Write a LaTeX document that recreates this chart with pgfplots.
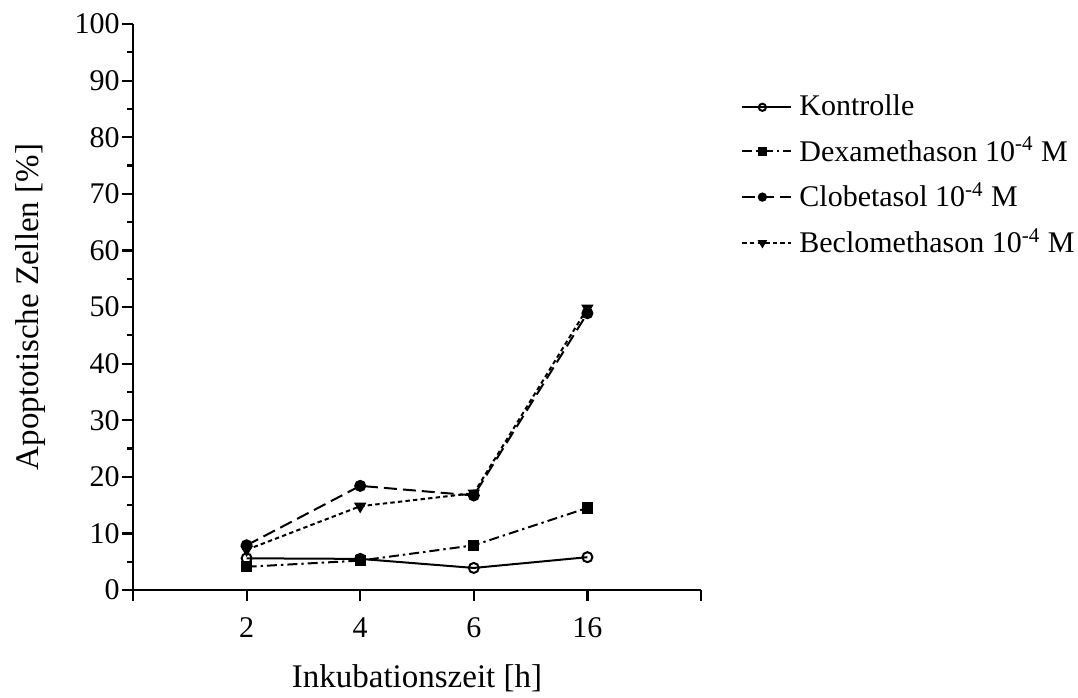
\documentclass[border=0pt]{standalone}
\usepackage{fontspec}
\setmainfont{Liberation Serif}
\usepackage{pgfplots}
\pgfplotsset{compat=1.18}
\usetikzlibrary{calc}

\begin{document}
\fontsize{15}{18}\selectfont
\begin{tikzpicture}
\begin{axis}[
    name=ax,
    scale only axis,
    width=284pt, height=283pt,
    xmin=0, xmax=5, ymin=0, ymax=100,
    axis x line*=bottom, axis y line*=left,
    axis line style={line width=1.1pt},
    tick style={line width=1.1pt, black},
    tick align=outside,
    major tick length=5.5pt, minor tick length=3pt,
    xtick={0,1,2,3,4,5}, xticklabels={,2,4,6,16,},
    ytick={0,10,...,100}, minor y tick num=1,
    /pgf/number format/assume math mode=true,
    ticklabel style={font=\fontsize{15}{18}\selectfont},
    yticklabel style={inner sep=1pt},
    xticklabel style={yshift=-3pt},
    xlabel={Inkubationszeit [h]},
    ylabel={Apoptotische Zellen [\%]},
    label style={font=\fontsize{16.5}{20}\selectfont},
    xlabel style={at={(axis description cs:0.5,-0.1714)}, anchor=base},
    ylabel style={at={(axis description cs:-0.181,0.5)}, anchor=center},
    every axis plot/.append style={line width=1pt, black},
    legend image code/.code={
        \draw[mark repeat=2, mark phase=2, mark size=1.8pt] plot coordinates {(0pt,0pt) (10pt,0pt) (24.5pt,0pt)};
    },
    legend cell align=left,
    legend style={draw=none, fill=none, at={(1.0704,0.883)}, anchor=north west,
        inner sep=0pt, row sep=4.5pt, font=\fontsize{15}{18}\selectfont,
        /tikz/every odd column/.append style={column sep=1.5pt}},
]
\addplot[solid, mark=o, mark size=2.5pt, mark options={solid, fill=white}]
    coordinates {(1,5.6) (2,5.5) (3,3.9) (4,5.8)};
\addlegendentry{Kontrolle}
\addplot[dash pattern=on 5pt off 2pt on 1.2pt off 2pt, mark=square*, mark size=2.3pt, mark options={solid}]
    coordinates {(1,4.1) (2,5.2) (3,7.9) (4,14.5)};
\addlegendentry{Dexamethason 10\textsuperscript{-4} M}
\addplot[dash pattern=on 6.5pt off 3pt, mark=*, mark size=2.5pt, mark options={solid}]
    coordinates {(1,7.9) (2,18.4) (3,16.7) (4,48.9)};
\addlegendentry{Clobetasol 10\textsuperscript{-4} M}
\addplot[dash pattern=on 2.2pt off 1.6pt, mark=triangle*, mark size=2.6pt, mark options={solid, rotate=180}]
    coordinates {(1,7.1) (2,14.8) (3,17.1) (4,49.8)};
\addlegendentry{Beclomethason 10\textsuperscript{-4} M}
\end{axis}
\pgfresetboundingbox
\path ($(ax.south west)+(-66.5pt,-53.5pt)$) rectangle ($(ax.north east)+(188.5pt,12pt)$);
\end{tikzpicture}
\end{document}
